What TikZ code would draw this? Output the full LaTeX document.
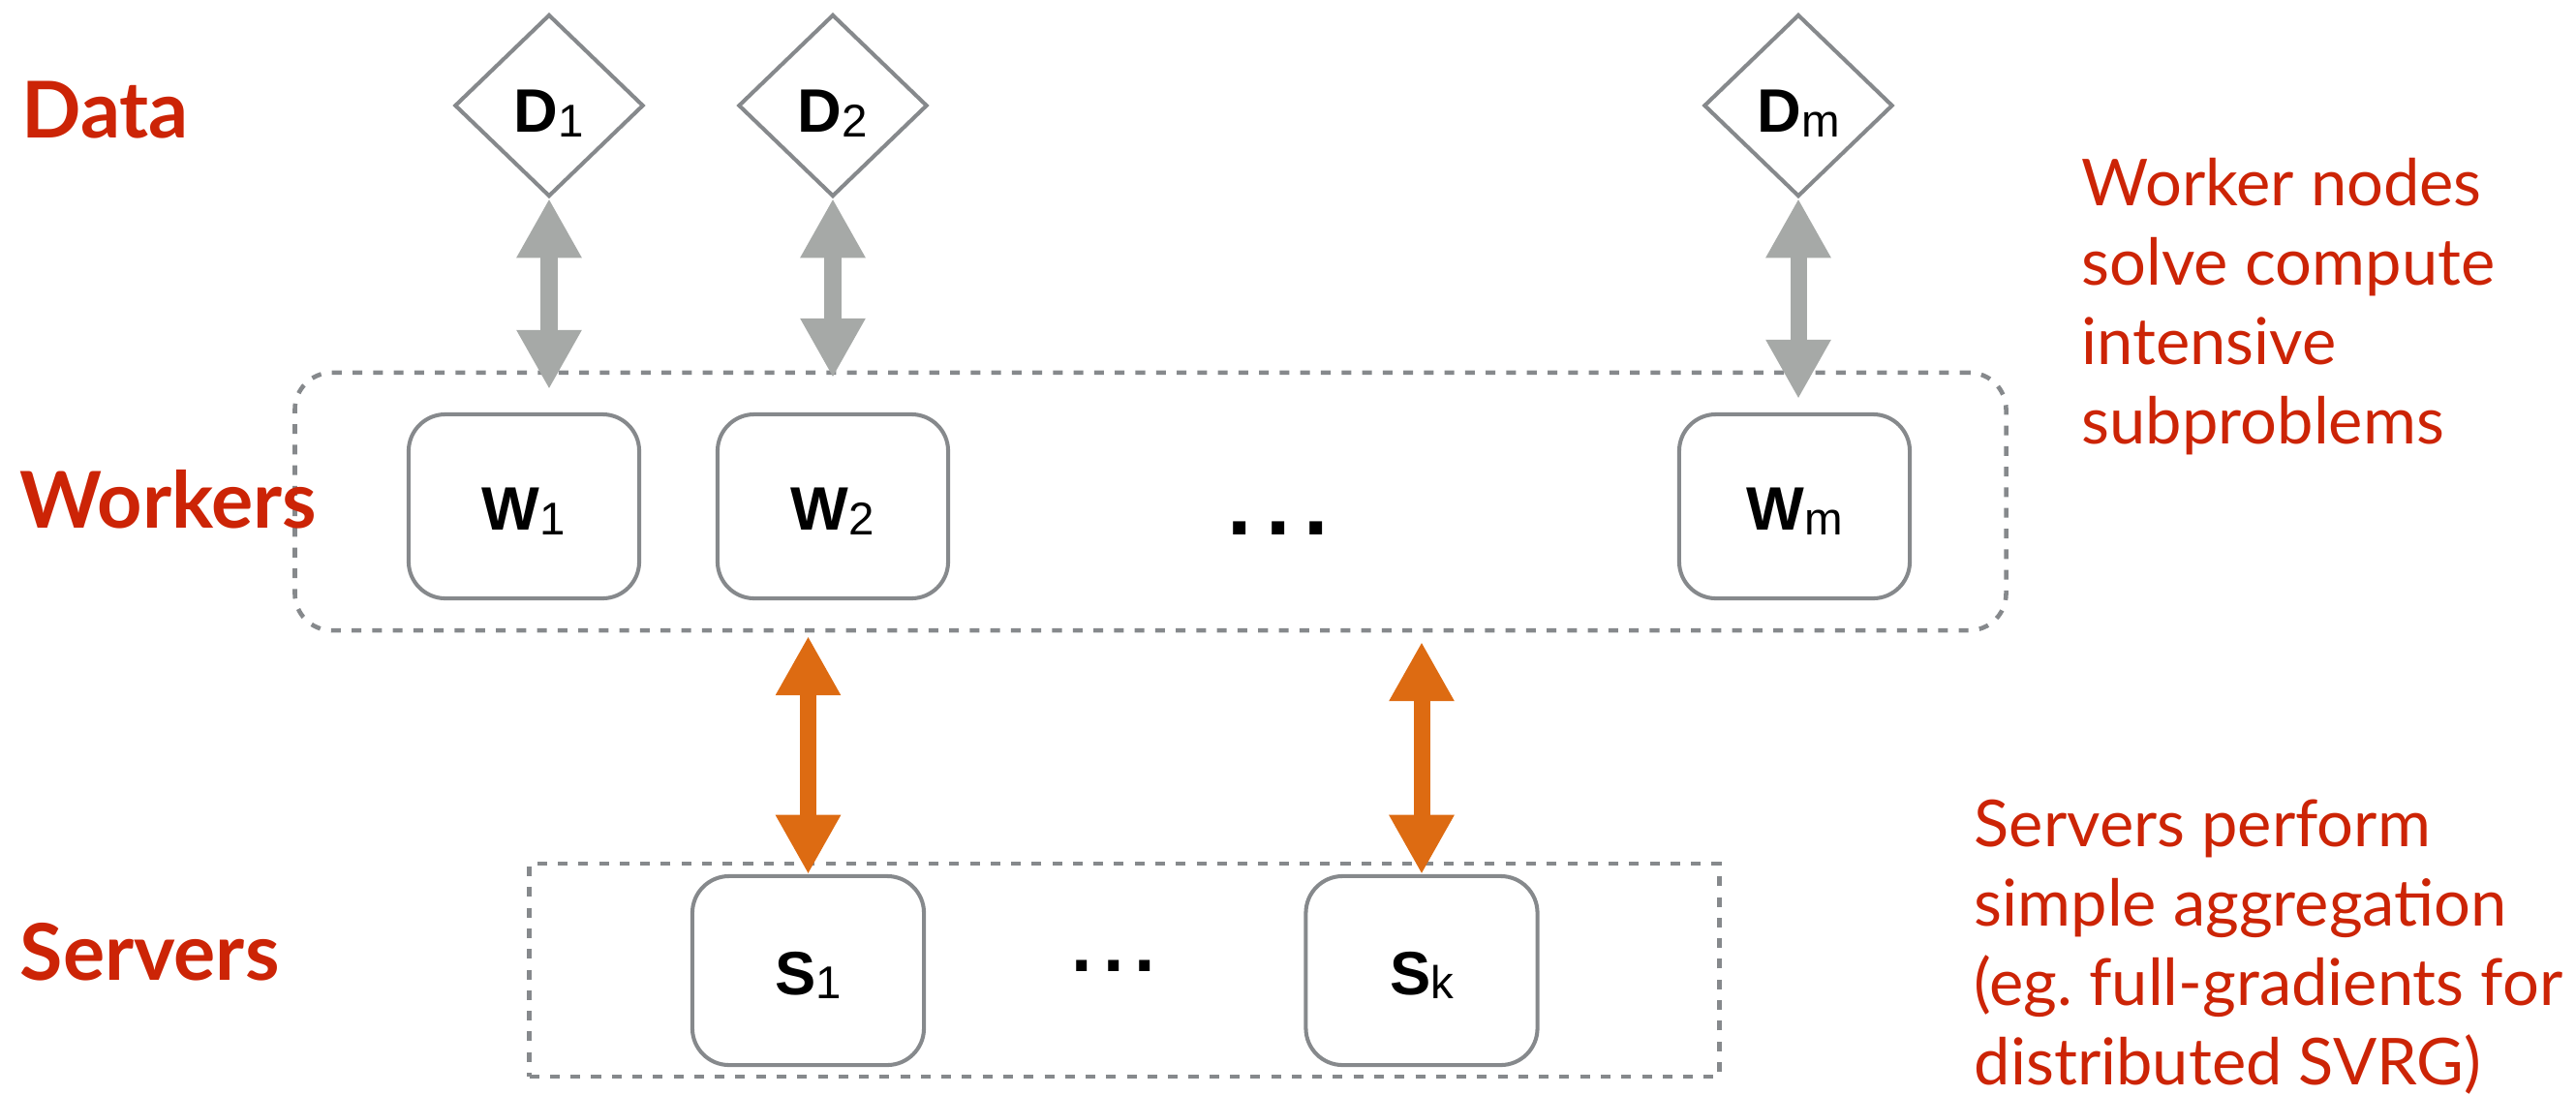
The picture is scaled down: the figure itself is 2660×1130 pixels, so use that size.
\documentclass[tikz,border=0pt]{standalone}
\usepackage{fontspec}
\usetikzlibrary{arrows.meta,shapes.geometric}

\newfontfamily\boxfont{Liberation Sans}
\newfontfamily\notefont{Lato}

\definecolor{notered}{RGB}{204,36,6}
\definecolor{edgegray}{RGB}{134,137,140}
\definecolor{linkgray}{RGB}{166,169,167}
\definecolor{linkorange}{RGB}{221,107,18}

% subscript index set in the regular weight, slightly lowered
\newcommand\idx[1]{\raisebox{-1.2pt}{\fontsize{13.5}{13.5}\selectfont\mdseries #1}}

\tikzset{
  databox/.style={diamond, draw=edgegray, line width=1.15pt, fill=white,
    minimum width=1.95cm, minimum height=1.88cm, inner sep=0pt,
    text height=15.9pt, text depth=0pt,
    font=\fontsize{18}{18}\boxfont\bfseries},
  unitbox/.style={draw=edgegray, line width=1.15pt, rounded corners=10.8pt,
    fill=white, minimum width=2.38cm, minimum height=1.9cm, inner sep=0pt,
    text height=14.2pt, text depth=0pt,
    font=\fontsize{18}{18}\boxfont\bfseries},
  serverbox/.style={unitbox, minimum width=2.39cm, minimum height=1.95cm},
  groupframe/.style={draw=edgegray, line width=1.3pt,
    dash pattern=on 2.85pt off 3.2pt, inner sep=0pt},
  grouplabel/.style={text=notered, inner sep=0pt, anchor=base west,
    font=\fontsize{23}{23}\notefont\bfseries},
  % multi-line notes: the base anchor sits on the last line
  note/.style={text=notered, inner sep=0pt, anchor=base west, align=left,
    font=\fontsize{19}{23.3}\notefont\frenchspacing},
  gapdots/.style={inner sep=0pt, anchor=base, font=\boxfont\bfseries},
  pipe/.style={line width=4.84pt, line cap=butt,
    >={Triangle[length=17.4pt,width=17.9pt]}, <->},
  datapipe/.style={pipe, draw=linkgray},
  syncpipe/.style={pipe, draw=linkorange}
}

\begin{document}
\begin{tikzpicture}[x=0.01cm, y=-0.01cm]
  \useasboundingbox (0,0) rectangle (2660,1130);

  % group frames
  \node[groupframe, rounded corners=10.8pt, minimum width=17.66cm,
        minimum height=2.66cm] (workers) at (1188,518) {};
  \node[groupframe, minimum width=12.28cm, minimum height=2.2cm]
        (servers) at (1161,1002) {};

  % data shards
  \node[databox] (D1) at (567,109) {D\idx{1}};
  \node[databox] (D2) at (860,109) {D\idx{2}};
  \node[databox] (Dm) at (1857,109) {D\idx{m}};

  % workers
  \node[unitbox] (W1) at (541,523) {W\idx{1}};
  \node[unitbox] (W2) at (860,523) {W\idx{2}};
  \node[unitbox] (Wm) at (1853,523) {W\idx{m}};
  \node[gapdots, font=\fontsize{26}{26}\boxfont\bfseries] (wdots) at (1320,552)
        {.\hspace{4pt}.\hspace{4pt}.};

  % servers
  \node[serverbox] (S1) at (834.5,1002.5) {S\idx{1}};
  \node[serverbox] (Sk) at (1468,1002.5) {S\idx{k}};
  \node[gapdots, font=\fontsize{22}{22}\boxfont\bfseries] (sdots) at (1150,1003)
        {.\hspace{3.1pt}.\hspace{3.1pt}.};

  % links between data and workers
  \coordinate (e1) at (567,402);
  \coordinate (e2) at (860,390);
  \coordinate (em) at (1857,412);
  \draw[datapipe] (D1.south) -- (e1);
  \draw[datapipe] (D2.south) -- (e2);
  \draw[datapipe] (Dm.south) -- (em);

  % links between workers and servers
  \coordinate (u1) at (834.5,657);
  \coordinate (uk) at (1468,663);
  \draw[syncpipe] (u1) -- (S1.north);
  \draw[syncpipe] (uk) -- (Sk.north);

  % row titles
  \node[grouplabel] (tData) at (22,142) {Data};
  \node[grouplabel] (tWorkers) at (20,545) {Workers};
  \node[grouplabel] (tServers) at (20,1012) {Servers};

  % notes
  \node[note] (nWorkers) at (2149,458)
    {Worker nodes\\solve compute\\intensive\\subproblems};
  \node[note] (nServers) at (2038,1120)
    {Servers perform\\simple aggregation\\(eg. full-gradients for\\distributed SVRG)};
\end{tikzpicture}
\end{document}
